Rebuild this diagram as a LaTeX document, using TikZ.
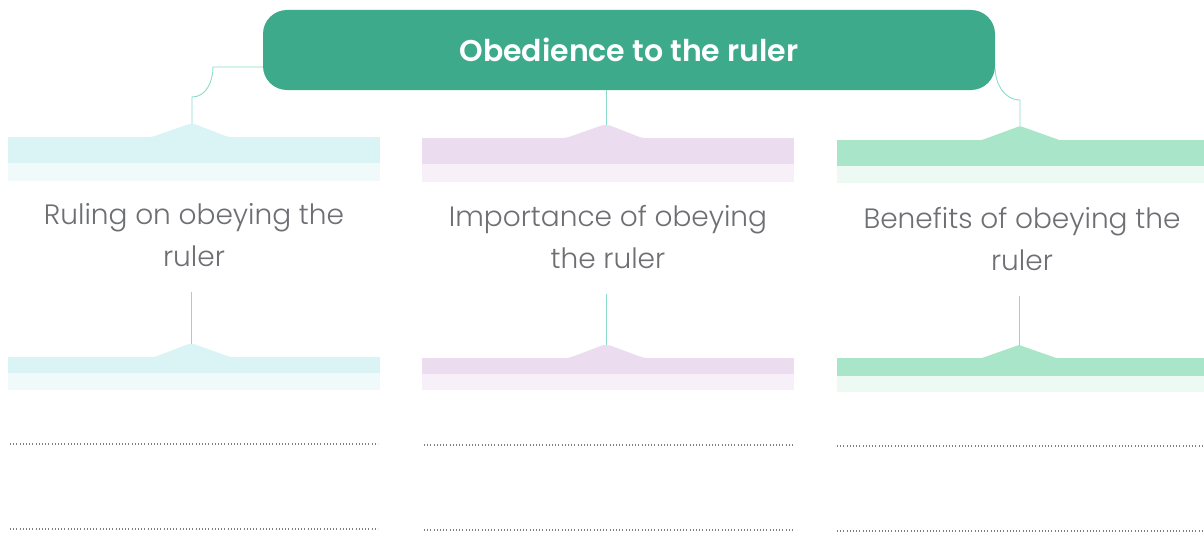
\documentclass[tikz,border=0pt]{standalone}
\usepackage{fontspec}
\setmainfont{Poppins}
\newfontfamily\lightfont{Poppins Light}
\newfontfamily\semifont{Poppins SemiBold}
\usetikzlibrary{calc}
\definecolor{titlegreen}{HTML}{3DAA8C}
\definecolor{linkc}{HTML}{8CDCCB}
\definecolor{cyanband}{HTML}{DAF3F5}
\definecolor{cyanfade}{HTML}{F1FAFB}
\definecolor{purpband}{HTML}{EBDCEF}
\definecolor{purpfade}{HTML}{F7F0F9}
\definecolor{greenband}{HTML}{A9E6C9}
\definecolor{greenfade}{HTML}{EDF9F3}
\definecolor{txtgray}{HTML}{6E6F73}
\definecolor{dotgray}{HTML}{7E7E7E}
\begin{document}
\begin{tikzpicture}[x=1pt,y=-1pt,
  titlebox/.style={fill=titlegreen, rounded corners=24pt, minimum width=732pt, minimum height=80pt, inner sep=0pt, text=white, font=\fontsize{30}{34}\selectfont\semifont},
  cattext/.style={text=txtgray, align=center, font=\fontsize{28}{42}\selectfont\lightfont, inner sep=0pt},
  link/.style={draw=linkc, line width=0.9pt},
  peak/.style={rounded corners=5pt},
  dotline/.style={draw=dotgray, line width=1.1pt, dash pattern=on 1pt off 2.2pt}]
\useasboundingbox (0,0) rectangle (1204,535);
\fill[white] (0,0) rectangle (1204,535);

% title
\node[titlebox] (title) at (629,50) {Obedience to the ruler};

% --- upper bands
\fill[cyanfade] (8,163) rectangle (380,181);
\fill[cyanband] (8,137) rectangle (380,163);
\fill[cyanband, peak] (130,140) -- (152,137) -- (192,123) -- (228,137) -- (250,140) -- cycle;
\coordinate (p1) at (192,124);
\fill[purpfade] (422,164) rectangle (794,182);
\fill[purpband] (422,138) rectangle (794,164);
\fill[purpband, peak] (544,141) -- (566,138) -- (606,124) -- (642,138) -- (664,141) -- cycle;
\coordinate (p2) at (606,125);
\fill[greenfade] (837,166) rectangle (1204,183);
\fill[greenband] (837,140) rectangle (1204,166);
\fill[greenband, rounded corners=2pt] (960,143) -- (982,140) -- (1020,126) -- (1062,141) -- (1084,143) -- cycle;
\coordinate (p3) at (1020,127);

% connectors from title
\draw[link] ($(title.west)+(0,17)$) -- (213,67) to[out=-90,in=0] (192,97) -- (p1);
\draw[link] (title.south -| p2) -- (p2);
\draw[link] ($(title.east)+(0,18)$) to[out=-90,in=180] (1020,100) -- (p3);

% category texts
\node[cattext] (c1) at (194,235) {Ruling on obeying the\\ruler};
\node[cattext] (c2) at (608,237) {Importance of obeying\\the ruler};
\node[cattext] (c3) at (1022,239) {Benefits of obeying the\\ruler};

% lower bands
\fill[cyanfade] (8,373) rectangle (380,390);
\fill[cyanband] (8,357) rectangle (380,373);
\fill[cyanband, peak] (133,360) -- (155,357) -- (191,343) -- (230,357) -- (252,360) -- cycle;
\coordinate (q1) at (191,344);
\fill[purpfade] (422,374) rectangle (794,390);
\fill[purpband] (422,358) rectangle (794,374);
\fill[purpband, peak] (547,361) -- (569,358) -- (606,344) -- (644,358) -- (666,361) -- cycle;
\coordinate (q2) at (606,345);
\fill[greenfade] (837,376) rectangle (1204,392);
\fill[greenband] (837,358) rectangle (1204,376);
\fill[greenband] (960,360) -- (982,358) -- (1019,345) -- (1062,360) -- (1084,362) -- cycle;
\coordinate (q3) at (1019,346);

\draw[link] ($(c1.south)+(-3,25)$) -- (q1);
\draw[link] ($(c2.south)+(-2,25)$) -- (q2);
\draw[link] ($(c3.south)+(-3,25)$) -- (q3);

% dotted answer lines
\coordinate (d1a) at (10,444); \coordinate (d1b) at (378,444);
\coordinate (d2a) at (424,445); \coordinate (d2b) at (793,445);
\coordinate (d3a) at (837,446); \coordinate (d3b) at (1204,446);
\coordinate (e1a) at (10,529); \coordinate (e1b) at (378,529);
\coordinate (e2a) at (424,530); \coordinate (e2b) at (793,530);
\coordinate (e3a) at (837,531); \coordinate (e3b) at (1204,531);
\draw[dotline] (d1a) -- (d1b);
\draw[dotline] (d2a) -- (d2b);
\draw[dotline] (d3a) -- (d3b);
\draw[dotline] (e1a) -- (e1b);
\draw[dotline] (e2a) -- (e2b);
\draw[dotline] (e3a) -- (e3b);
\end{tikzpicture}
\end{document}
